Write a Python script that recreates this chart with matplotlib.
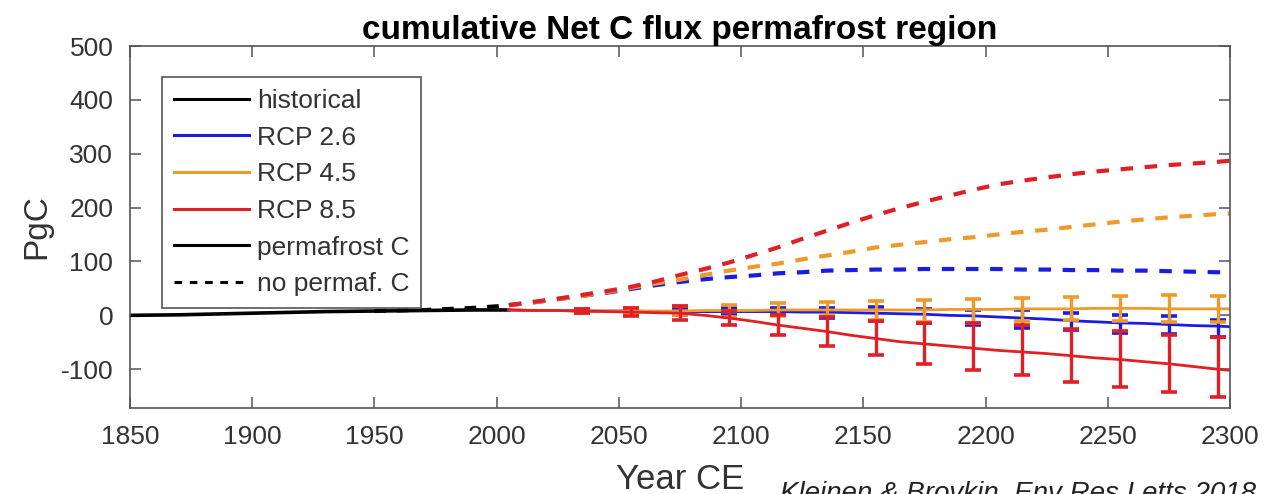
import numpy as np
import matplotlib
matplotlib.use('Agg')
import matplotlib.pyplot as plt
from matplotlib.lines import Line2D

plt.rcParams['font.family'] = ['Liberation Sans', 'DejaVu Sans']
plt.rcParams['axes.unicode_minus'] = False

# historical run
hist_years = [1850, 1870, 1890, 1910, 1930, 1950, 1970, 1990, 2005]
hist_perma = [0, 1, 3, 5, 7, 8, 9, 10, 10]
hist_noperm_years = [1950, 1960, 1970, 1980, 1990, 2000, 2005]
hist_noperm = [8, 9, 10, 12, 14, 17, 19]

# scenarios, 2005-2300
fut_years = [2005, 2015, 2025, 2035, 2045, 2055, 2065, 2075, 2085, 2095,
             2105, 2115, 2125, 2135, 2145, 2155, 2165, 2175, 2185, 2195,
             2205, 2215, 2225, 2235, 2245, 2255, 2265, 2275, 2285, 2295, 2300]

rcp26_perma = [10, 9, 9, 8, 8, 8, 7, 7, 7, 7, 7, 7, 6, 6, 5, 4, 3, 2, 0, -1,
               -3, -5, -7, -10, -12, -14, -15, -17, -19, -20, -21]
rcp45_perma = [10, 9, 9, 8, 8, 8, 8, 8, 9, 9, 9, 10, 10, 10, 10, 10, 10, 10,
               11, 11, 11, 12, 12, 12, 13, 13, 13, 12, 12, 12, 12]
rcp85_perma = [10, 9, 9, 8, 7, 6, 5, 4, 0, -5, -11, -18, -24, -30, -37, -43,
               -49, -53, -57, -61, -65, -68, -71, -75, -79, -82, -86, -90,
               -95, -100, -102]

rcp26_noperm = [19, 24, 30, 36, 42, 49, 56, 62, 67, 71, 74, 78, 80, 83, 84,
                85, 85, 86, 86, 86, 86, 85, 85, 84, 84, 83, 83, 82, 81, 80, 80]
rcp45_noperm = [19, 24, 30, 36, 43, 51, 59, 66, 75, 83, 90, 96, 104, 111, 118,
                126, 131, 136, 141, 145, 150, 155, 159, 164, 169, 174, 178,
                182, 185, 188, 189]
rcp85_noperm = [19, 25, 31, 38, 45, 53, 63, 75, 86, 98, 112, 126, 142, 157,
                172, 186, 199, 211, 222, 233, 243, 250, 256, 262, 267, 271,
                275, 279, 282, 285, 287]

# error bars every 20 years (lower, upper spread)
eb_years = [2035, 2055, 2075, 2095, 2115, 2135, 2155, 2175, 2195, 2215,
            2235, 2255, 2275, 2295]
rcp26_lo = [3, 5, 6, 6, 7, 11, 14, 16, 17, 18, 18, 18, 18, 20]
rcp26_hi = [3, 5, 6, 6, 7, 8, 11, 9, 11, 14, 14, 15, 16, 11]
rcp45_lo = [3, 5, 8, 12, 11, 12, 19, 22, 25, 23, 21, 24, 24, 25]
rcp45_hi = [3, 5, 9, 10, 12, 14, 16, 18, 19, 21, 22, 22, 25, 23]
rcp85_lo = [3, 8, 13, 13, 19, 27, 31, 38, 41, 43, 48, 51, 52, 52]
rcp85_hi = [3, 8, 13, 13, 19, 27, 33, 38, 46, 50, 50, 53, 54, 60]

c_blue = '#1c1ce0'
c_orange = '#ee9a2a'
c_red = '#e01f26'

fig = plt.figure(figsize=(12.68, 4.94), dpi=100)
ax = fig.add_axes([130/1268, 1 - 408/494, 1100/1268, 362/494])

ax.plot(hist_years, hist_perma, color='black', lw=2.6)
ax.plot(hist_noperm_years, hist_noperm, color='black', lw=2.8,
        dashes=(3, 2.8))

scen = [(rcp26_perma, rcp26_noperm, rcp26_lo, rcp26_hi, c_blue),
        (rcp45_perma, rcp45_noperm, rcp45_lo, rcp45_hi, c_orange),
        (rcp85_perma, rcp85_noperm, rcp85_lo, rcp85_hi, c_red)]

for perma, noperm, lo, hi, col in scen:
    ax.plot(fut_years, noperm, color=col, lw=3.0, dashes=(3, 2.8))
for perma, noperm, lo, hi, col in scen:
    ax.plot(fut_years, perma, color=col, lw=2.0)
    mid = [perma[fut_years.index(y)] for y in eb_years]
    ax.errorbar(eb_years, mid, yerr=[lo, hi], fmt='none', ecolor=col,
                elinewidth=2.4, capsize=6, capthick=2.6)

ax.set_xlim(1850, 2300)
ax.set_ylim(-172, 500)
ax.set_xticks(np.arange(1850, 2301, 50))
ax.set_yticks(np.arange(-100, 501, 100))
ax.tick_params(direction='in', length=8, width=1.1, top=True, right=True,
               labelsize=19, labelcolor='#333333', color='#555555')
ax.tick_params(axis='x', pad=12)
ax.tick_params(axis='y', pad=12)
for sp in ax.spines.values():
    sp.set_color('#555555')
    sp.set_linewidth(1.2)

ax.set_title('cumulative Net C flux permafrost region', fontsize=24,
             fontweight='bold', pad=5)
ax.set_xlabel('Year CE', fontsize=25, color='#333333', labelpad=10)
ax.set_ylabel('PgC', fontsize=24, color='#333333', labelpad=6)

handles = [Line2D([], [], color='black', lw=2.2),
           Line2D([], [], color=c_blue, lw=2.2),
           Line2D([], [], color=c_orange, lw=2.2),
           Line2D([], [], color=c_red, lw=2.2),
           Line2D([], [], color='black', lw=2.2),
           Line2D([], [], color='black', lw=2.2, dashes=(2.5, 2.5))]
labels = ['historical', 'RCP 2.6', 'RCP 4.5', 'RCP 8.5', 'permafrost C',
          'no permaf. C']
leg = ax.legend(handles, labels, loc='upper left',
                bbox_to_anchor=(0.029, 0.914), borderaxespad=0,
                fontsize=19, handlelength=2.85, handletextpad=0.3,
                labelspacing=0.48, borderpad=0.45, fancybox=False,
                framealpha=1)
leg.get_frame().set_edgecolor('#555555')
leg.get_frame().set_linewidth(1.2)
for t in leg.get_texts():
    t.set_color('#333333')

fig.text(780/1268, -6/494, 'Kleinen & Brovkin, Env Res Letts 2018',
         fontsize=20, style='italic', va='baseline', ha='left',
         color='#222222')

fig.savefig('out.png', dpi=100)
